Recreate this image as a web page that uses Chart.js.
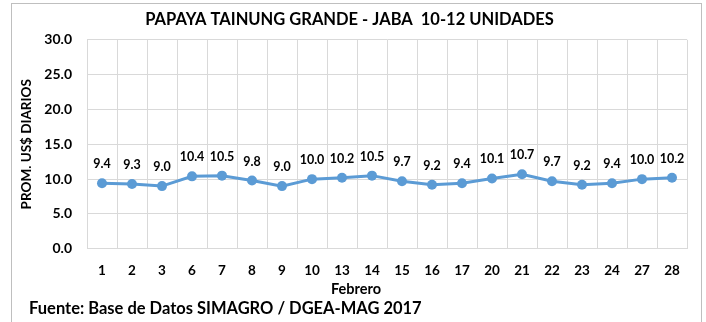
<!DOCTYPE html>
<html>
<head>
<meta charset="utf-8">
<script src="https://cdn.jsdelivr.net/npm/chart.js@4.4.0/dist/chart.umd.min.js"></script>
<style>
  html, body { margin: 0; padding: 0; background: #fff; }
  #frame { position: absolute; left: 11px; top: 3px; width: 691px; height: 330px; border: 1px solid #bfbfbf; box-sizing: border-box; }
  #wrap { position: absolute; left: 0; top: 0; width: 706px; height: 322px; }
</style>
</head>
<body>
<div id="frame"></div>
<div id="wrap"><canvas id="chart" width="706" height="322"></canvas></div>
<script>
const dias = ['1', '2', '3', '6', '7', '8', '9', '10', '13', '14', '15', '16', '17', '20', '21', '22', '23', '24', '27', '28'];
const precios = [9.4, 9.3, 9.0, 10.4, 10.5, 9.8, 9.0, 10.0, 10.2, 10.5, 9.7, 9.2, 9.4, 10.1, 10.7, 9.7, 9.2, 9.4, 10.0, 10.2];
const yTicks = [0, 5, 10, 15, 20, 25, 30];

const FONT = 'Lato, "Open Sans", sans-serif';

// etiquetas de valor encima de cada punto
const valueLabels = {
  id: 'valueLabels',
  afterDatasetsDraw(chart) {
    const ctx = chart.ctx;
    const meta = chart.getDatasetMeta(0);
    ctx.save();
    ctx.font = 'bold 12.5px ' + FONT;
    ctx.fillStyle = '#000';
    ctx.textAlign = 'center';
    ctx.textBaseline = 'middle';
    meta.data.forEach((pt, i) => {
      ctx.fillText(precios[i].toFixed(1), pt.x, pt.y - 19);
    });
    ctx.restore();
  }
};

// titulo del eje x y nota de fuente al pie
const pie = {
  id: 'pie',
  afterDraw(chart) {
    const ctx = chart.ctx;
    ctx.save();
    ctx.fillStyle = '#000';
    ctx.textBaseline = 'middle';
    ctx.font = 'bold 14.5px ' + FONT;
    ctx.textAlign = 'center';
    ctx.fillText('Febrero', 356, 289);
    ctx.font = 'bold 16.5px ' + FONT;
    ctx.textAlign = 'left';
    ctx.fillText('Fuente: Base de Datos SIMAGRO / DGEA-MAG 2017', 29, 309);
    ctx.restore();
  }
};

new Chart(document.getElementById('chart'), {
  type: 'line',
  data: {
    labels: dias,
    datasets: [{
      data: precios,
      borderColor: '#5B9BD5',
      backgroundColor: '#5B9BD5',
      borderWidth: 3,
      pointRadius: 5,
      pointBorderWidth: 0,
      tension: 0
    }]
  },
  options: {
    responsive: false,
    animation: false,
    layout: { padding: { left: 12, right: 19, top: 4, bottom: 29 } },
    plugins: {
      legend: { display: false },
      tooltip: { enabled: false },
      title: {
        display: true,
        text: 'PAPAYA TAINUNG GRANDE - JABA  10-12 UNIDADES',
        color: '#000',
        font: { family: FONT, size: 16.5, weight: 'bold' },
        padding: { top: 6, bottom: 10 }
      }
    },
    scales: {
      x: {
        offset: true,
        grid: { color: '#d9d9d9', offset: true, drawTicks: false },
        border: { color: '#d9d9d9' },
        ticks: { color: '#000', font: { family: FONT, size: 13.5, weight: 'bold' }, padding: 14, maxRotation: 0, autoSkip: false }
      },
      y: {
        min: 0,
        max: 30,
        afterBuildTicks(axis) { axis.ticks = yTicks.map(v => ({ value: v })); },
        afterFit(axis) { axis.width = 75; },
        grid: { color: '#d9d9d9', drawTicks: false },
        border: { color: '#d9d9d9' },
        ticks: { color: '#000', font: { family: FONT, size: 14, weight: 'bold' }, padding: 15, callback: v => v.toFixed(1) },
        title: { display: true, text: 'PROM. US$ DIARIOS', color: '#000', font: { family: FONT, size: 13.5, weight: 'bold' }, padding: { top: 7, bottom: 0 } }
      }
    }
  },
  plugins: [valueLabels, pie]
});
</script>
</body>
</html>
